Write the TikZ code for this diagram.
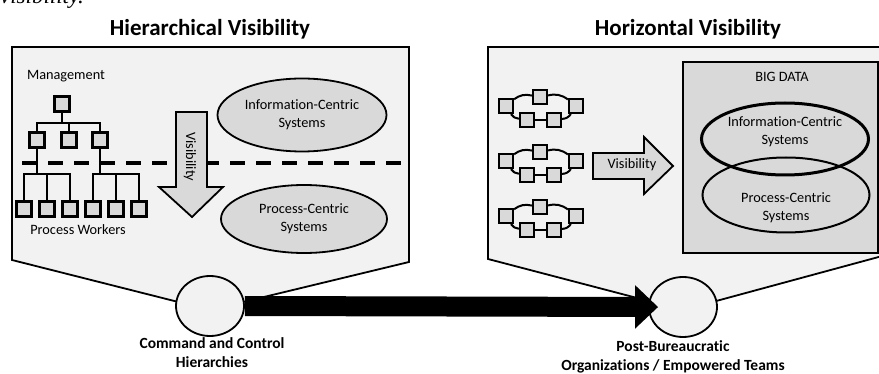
\documentclass[tikz,border=0pt]{standalone}
\usepackage{fontspec}
\setmainfont{Carlito}[Ligatures=NoCommon]
\newfontfamily\bodyserif{Liberation Serif}
\usetikzlibrary{shapes.geometric,positioning,arrows.meta}

\definecolor{panelgray}{HTML}{F2F2F2}
\definecolor{shapegray}{HTML}{D9D9D9}

\newcommand\bodytext{\fontsize{14.3}{18}\selectfont}
\newcommand\titletext{\fontsize{23}{27}\selectfont\bfseries}
\newcommand\captext{\fontsize{15.5}{19}\selectfont\bfseries}

\tikzset{
panel/.style={draw, line width=1.8pt, fill=panelgray, line join=miter},
orgbox/.style={draw, line width=2.4pt, fill=shapegray, minimum size=15pt, inner sep=0pt},
netbox/.style={draw, line width=2.2pt, fill=shapegray, minimum size=14pt, inner sep=0pt},
link/.style={line width=1.5pt, line cap=rect},
netlink/.style={line width=2pt},
label/.style={inner sep=0pt, font=\bodytext, align=center},
sysellipse/.style={ellipse, draw, line width=1.8pt, fill=shapegray, inner sep=0pt, align=center, font=\bodytext},
vizarrow/.style={draw, line width=1.8pt, fill=shapegray, line join=miter},
stage/.style={ellipse, draw, line width=1.8pt, fill=panelgray, minimum width=68pt, minimum height=60pt},
bigarrow/.style={line width=20pt, -{Triangle[length=23pt, width=42pt]}, shorten >=-10pt},
}

\begin{document}
\begin{tikzpicture}[x=1pt, y=-1pt, node distance=23pt]
    \useasboundingbox (0,0) rectangle (879,374);

    % tail of the sentence above the figure
    \node[anchor=base east, inner sep=0pt, font=\fontsize{23}{23}\bodyserif\itshape] (prevtext) at (84,4) {visibility.};

    % panels
    \draw[panel] (12,47) -- (409,47) -- (409,262) -- (210,310) -- (12,260) -- cycle;
    \draw[panel] (488,47) -- (886,47) -- (886,255) -- (683,310) -- (488,259) -- cycle;

    \node[inner sep=0pt, font=\titletext] (hiertitle) at (210,29) {Hierarchical Visibility};
    \node[inner sep=0pt, font=\titletext] (hortitle) at (688,29) {Horizontal Visibility};

    % hierarchy
    \draw[line width=4.5pt, dash pattern=on 15pt off 11pt] (22,163) -- (409,163);

    \node[label] (mgmt) at (66,76) {Management};
    \node[orgbox] (m0) at (62,104) {};
    \node[orgbox] (m1) at (37,140) {};
    \node[orgbox] (m2) at (69,140) {};
    \node[orgbox] (m3) at (100,140) {};
    \node[orgbox] (w1) at (24,209) {};
    \node[orgbox,right of=w1] (w2) {};
    \node[orgbox,right of=w2] (w3) {};
    \node[orgbox,right of=w3] (w4) {};
    \node[orgbox,right of=w4] (w5) {};
    \node[orgbox,right of=w5] (w6) {};
    \node[label] (workers) at (78,230) {Process Workers};

    \draw[link] (m0) -- (m0 |- 0,123);
    \draw[link] (m1 |- 0,123) -- (m3 |- 0,123);
    \foreach \m in {m1,m2,m3}
        \draw[link] (\m) -- (\m |- 0,123);
    \draw[link] (m1) -- (m1 |- 0,174);
    \draw[link] (m3) -- (m3 |- 0,174);
    \draw[link] (w1 |- 0,174) -- (w3 |- 0,174);
    \draw[link] (w4 |- 0,174) -- (w6 |- 0,174);
    \foreach \i in {1,...,6}
        \draw[link] (w\i) -- (w\i |- 0,174);

    \draw[vizarrow] (176,112) -- (207,112) -- (207,187) -- (223,187) -- (192,217) -- (159,187) -- (176,187) -- cycle;
    \node[label, rotate=-90] (vizdown) at (190,157) {Visibility};

    \node[sysellipse, minimum width=169pt, minimum height=73pt] (infoL) at (302,115) {Information-Centric\\Systems};
    \node[sysellipse, minimum width=166pt, minimum height=68pt] (procL) at (304,219) {Process-Centric\\Systems};

    % teams
    \foreach \k/\dy in {1/0, 2/55, 3/110} {
        \node[netbox] (nl\k) at (506,106+\dy) {};
        \node[netbox] (nt\k) at (540,97+\dy) {};
        \node[netbox] (nr\k) at (576,106+\dy) {};
        \node[netbox] (nb\k) at (527,120+\dy) {};
        \node[netbox] (nc\k) at (554,120+\dy) {};
        \draw[netlink] (nl\k) to[bend left=25] (nt\k);
        \draw[netlink] (nt\k) to[bend left=25] (nr\k);
        \draw[netlink] (nl\k) to[bend right=25] (nb\k);
        \draw[netlink] (nb\k) -- (nc\k);
        \draw[netlink] (nc\k) to[bend right=25] (nr\k);
    }

    \draw[vizarrow] (593,153) -- (644,153) -- (644,137) -- (673,166) -- (644,194) -- (644,179) -- (593,179) -- cycle;
    \node[label] (vizright) at (632,165) {Visibility};

    \draw[line width=1.8pt, fill=shapegray] (683,62) rectangle (878,253);
    \node[label] (bigdata) at (782,77) {BIG DATA};
    \node[ellipse, draw, line width=3pt, minimum width=167pt, minimum height=72pt] (infoR) at (785,139) {};
    \node[ellipse, draw, line width=2pt, minimum width=167pt, minimum height=75pt] (procR) at (786,195) {};
    \node[label] (infotext) at (785,132) {Information-Centric\\Systems};
    \node[label] (proctext) at (786,208) {Process-Centric\\Systems};

    % transition
    \node[stage] (lc) at (210,306) {};
    \node[stage] (rc) at (683,307) {};
    \draw[bigarrow] (lc.east) -- (rc.west);

    \node[inner sep=0pt, align=center, font=\captext] (lclabel) at (212,353) {Command and Control\\Hierarchies};
    \node[inner sep=0pt, align=center, font=\captext] (rclabel) at (673,357) {Post-Bureaucratic\\Organizations / Empowered Teams};

\end{tikzpicture}
\end{document}
